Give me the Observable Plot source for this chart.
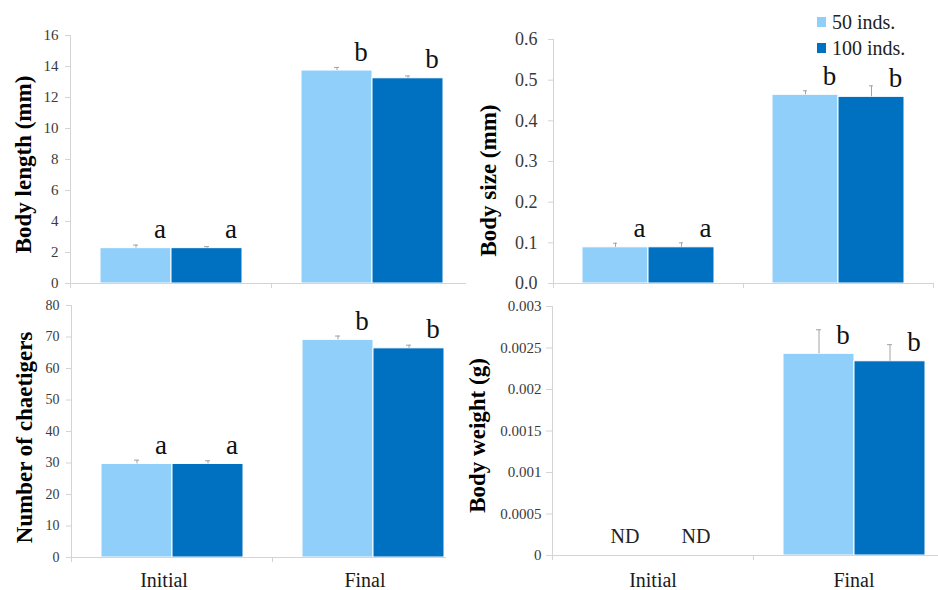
<!DOCTYPE html>
<html>
<head>
<meta charset="utf-8">
<script src="https://cdn.jsdelivr.net/npm/d3@7"></script>
<script src="https://cdn.jsdelivr.net/npm/@observablehq/plot@0.6"></script>
<style>
  body { margin: 0; background: #fff; overflow: hidden; }
  #wrap { position: relative; width: 938px; height: 590px; background: #fff; overflow: hidden;
          font-family: "Liberation Serif", "Times New Roman", serif; }
  .panel { position: absolute; overflow: hidden; }
  .panel svg, .panel svg text { font-family: "Liberation Serif", "Times New Roman", serif !important; }
  .legend { position: absolute; left: 817px; top: 9px; font-size: 20px; color: #222; }
  .legend .row { display: flex; align-items: center; height: 26px; white-space: nowrap; }
  .legend .sw { display: inline-block; width: 9px; height: 10px; margin-right: 6px; }
</style>
</head>
<body>
<div id="wrap"></div>
<script>
// ---------------- data ----------------
const categories = ["Initial", "Final"];
const series = ["50 inds.", "100 inds."];
const colors = ["#91cffb", "#0070c0"];

// order of values: Initial-50, Initial-100, Final-50, Final-100
const lengthMean = [2.28, 2.28, 13.74, 13.24];
const lengthErr = [0.2, 0.1, 0.2, 0.15];
const lengthLetters = ["a", "a", "b", "b"];
const lengthTicks = [0, 2, 4, 6, 8, 10, 12, 14, 16];

const sizeMean = [0.089, 0.089, 0.464, 0.459];
const sizeErr = [0.01, 0.011, 0.01, 0.027];
const sizeLetters = ["a", "a", "b", "b"];
const sizeTicks = [0, 0.1, 0.2, 0.3, 0.4, 0.5, 0.6];

const chaetMean = [29.7, 29.7, 69.1, 66.4];
const chaetErr = [1.2, 1.0, 1.2, 1.0];
const chaetLetters = ["a", "a", "b", "b"];
const chaetTicks = [0, 10, 20, 30, 40, 50, 60, 70, 80];

const weightMean = [null, null, 0.00243, 0.00234];
const weightErr = [null, null, 0.00029, 0.0002];
const weightLetters = ["ND", "ND", "b", "b"];
const weightTicks = [0, 0.0005, 0.001, 0.0015, 0.002, 0.0025, 0.003];

// ---------------- drawing ----------------
const FONT = '"Liberation Serif", "Times New Roman", serif';
const AXIS = "#d4d4d4";
const ERR = "#a3a3a3";
const wrap = document.getElementById("wrap");

function makePanel(cfg) {
  const rows = categories.flatMap((c, ci) => series.map((s, si) => {
    const i = ci * series.length + si;
    return {cat: c, ser: s, v: cfg.mean[i], e: cfg.err[i], lab: cfg.labels[i]};
  }));
  const has = rows.filter(d => d.v != null);
  const nd = rows.filter(d => d.v == null);
  const innerH = cfg.height - cfg.mt - cfg.mb;

  const marks = [
    Plot.barY(has, {fx: "cat", x: "ser", y: "v", fill: "ser", stroke: "#ffffff", strokeWidth: 1}),
    Plot.ruleX(has, {fx: "cat", x: "ser", y1: "v", y2: d => d.v + d.e, stroke: ERR, strokeWidth: 1}),
    Plot.tickY(has, {fx: "cat", x: "ser", y: d => d.v + d.e, stroke: ERR, strokeWidth: 1,
                     insetLeft: cfg.cap, insetRight: cfg.cap}),
    Plot.text(has, {fx: "cat", x: "ser", y: "v", text: "lab", dx: 24, dy: -10, lineAnchor: "bottom",
                    fontSize: 27, fill: "#111", fontFamily: FONT}),
    Plot.text(nd, {fx: "cat", x: "ser", y: () => 0, text: "lab", dx: 7, dy: -13, lineAnchor: "bottom",
                   fontSize: 20, fill: "#222", fontFamily: FONT}),
    Plot.axisY({ticks: cfg.ticks, tickFormat: cfg.fmt, tickSize: cfg.tickSize || 5, tickPadding: cfg.tickPad,
                fontSize: cfg.tickFont, stroke: AXIS, fill: "#3a3a3a", label: null, fontFamily: FONT}),
    Plot.text([cfg.title], {fx: () => categories[0], frameAnchor: "left", textAnchor: "middle",
                            lineAnchor: "middle", rotate: -90,
                            dx: cfg.tx - cfg.ml, dy: cfg.ty - (cfg.mt + innerH / 2),
                            fontSize: 23, fontWeight: "bold", fill: "#000", fontFamily: FONT})
  ];
  if (cfg.fxAxis) {
    marks.push(Plot.axisFx({anchor: "bottom", tickSize: 0, tickPadding: cfg.fxPad, fontSize: 20,
                            fill: "#1a1a1a", label: null, dx: cfg.fxDx || 0, fontFamily: FONT}));
  }

  const plot = Plot.plot({
    width: cfg.width, height: cfg.height,
    marginLeft: cfg.ml, marginRight: 0, marginTop: cfg.mt, marginBottom: cfg.mb,
    style: {fontFamily: FONT, background: "transparent", maxWidth: "none", overflow: "visible"},
    fx: cfg.fxAxis ? {domain: categories, padding: 0, label: null}
                   : {domain: categories, padding: 0, label: null, axis: null},
    x: {domain: series, paddingInner: 0, paddingOuter: cfg.po, axis: null},
    y: {domain: [0, cfg.yMax], label: null},
    color: {domain: series, range: colors},
    marks
  });

  // make sure every text uses the serif face
  d3.select(plot).attr("font-family", FONT).selectAll("text").attr("font-family", FONT);
  d3.select(plot).selectAll("g").filter(function () { return this.hasAttribute("font-family"); })
    .attr("font-family", FONT);

  // axis lines from the plot's own scales
  const fx = plot.scale("fx"), y = plot.scale("y");
  const bw = fx.bandwidth;
  const left = fx.apply(categories[0]);
  const right = fx.apply(categories[categories.length - 1]) + bw;
  const y0 = y.apply(0), yTop = y.apply(cfg.yMax);
  const g = d3.select(plot).append("g").attr("stroke", AXIS).attr("stroke-width", 1)
    .attr("shape-rendering", "crispEdges");
  g.append("line").attr("x1", left).attr("x2", right).attr("y1", y0).attr("y2", y0);
  g.append("line").attr("x1", left).attr("x2", left).attr("y1", yTop).attr("y2", y0 + 5);
  categories.forEach(c => {
    const xb = fx.apply(c) + bw;
    g.append("line").attr("x1", xb).attr("x2", xb).attr("y1", y0).attr("y2", y0 + 5);
  });

  const div = document.createElement("div");
  div.className = "panel";
  div.style.left = cfg.left + "px";
  div.style.top = cfg.top + "px";
  div.style.width = cfg.cw + "px";
  div.style.height = cfg.height + "px";
  div.appendChild(plot);
  wrap.appendChild(div);
}

makePanel({mean: lengthMean, err: lengthErr, labels: lengthLetters, ticks: lengthTicks, yMax: 16,
  fmt: d => String(d), title: "Body length (mm)",
  left: 0, top: 0, cw: 466, width: 472, height: 300, ml: 70, mt: 35, mb: 17,
  po: 0.41, cap: 33, tickFont: 15, tickPad: 7, tx: 23, ty: 164});

makePanel({mean: sizeMean, err: sizeErr, labels: sizeLetters, ticks: sizeTicks, yMax: 0.6,
  fmt: d3.format(".1f"), title: "Body size (mm)",
  left: 470, top: 0, cw: 468, width: 463, height: 300, ml: 83, mt: 39, mb: 17,
  po: 0.418, cap: 31, tickFont: 18, tickPad: 11, tx: 18, ty: 180});

makePanel({mean: chaetMean, err: chaetErr, labels: chaetLetters, ticks: chaetTicks, yMax: 80,
  fmt: d => String(d), title: "Number of chaetigers",
  left: 0, top: 290, cw: 446, width: 473, height: 300, ml: 71, mt: 15, mb: 33,
  po: 0.41, cap: 33, tickFont: 14, tickPad: 7, tx: 24, ty: 147,
  fxAxis: true, fxPad: 15, fxDx: -8});

makePanel({mean: weightMean, err: weightErr, labels: weightLetters, ticks: weightTicks, yMax: 0.003,
  fmt: d => String(d), title: "Body weight (g)",
  left: 455, top: 290, cw: 483, width: 499, height: 300, ml: 97, mt: 16, mb: 35,
  po: 0.415, cap: 33, tickFont: 15, tickPad: 5, tickSize: 6, tx: 22, ty: 145,
  fxAxis: true, fxPad: 17, fxDx: 0});

// legend
const legend = document.createElement("div");
legend.className = "legend";
series.forEach((s, i) => {
  const row = document.createElement("div");
  row.className = "row";
  const sw = document.createElement("span");
  sw.className = "sw";
  sw.style.background = colors[i];
  row.appendChild(sw);
  row.appendChild(document.createTextNode(s));
  legend.appendChild(row);
});
wrap.appendChild(legend);
</script>
</body>
</html>
